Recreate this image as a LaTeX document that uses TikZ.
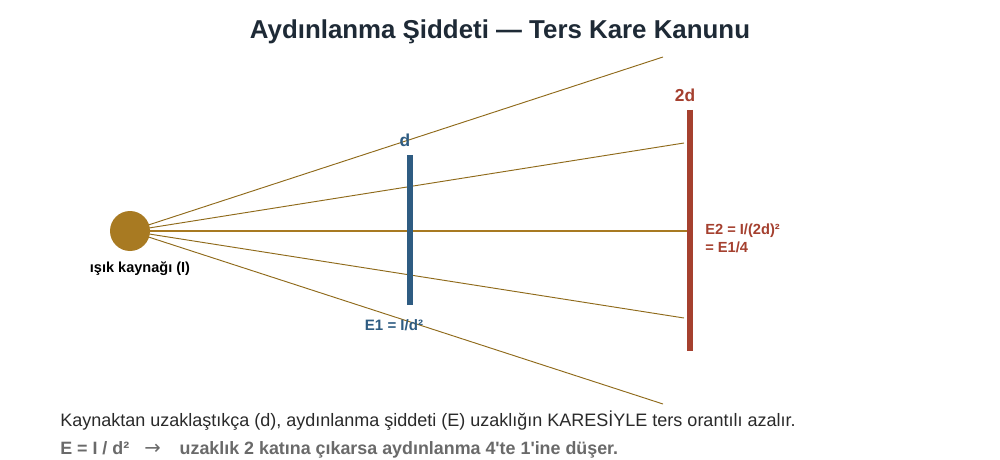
\documentclass[tikz,border=0pt]{standalone}
\usepackage{fontspec}
\setmainfont{Liberation Sans}[Ligatures=TeXOff]
\newfontfamily\arrowfont{DejaVu Sans}[Scale=1.1]
\definecolor{srcgold}{HTML}{A87A22}
\definecolor{raygold}{HTML}{8F6A1A}
\definecolor{barblue}{HTML}{2E5C82}
\definecolor{barred}{HTML}{A5402F}
\definecolor{titlec}{HTML}{1E2A36}
\definecolor{bodyc}{HTML}{2A2A2A}
\definecolor{greyc}{HTML}{6A6A6A}
\begin{document}
\begin{tikzpicture}[x=0.75pt,y=-0.75pt,
  ray/.style={draw=raygold,line width=0.7pt},
  axisray/.style={draw=srcgold,line width=1.5pt},
  bar/.style={line width=4.5pt},
  lbl/.style={font=\bfseries\fontsize{11.3}{13}\selectfont,inner sep=0pt}]
\useasboundingbox (0,0) rectangle (1000,460);
\fill[white] (0,0) rectangle (1000,460);
% title
\node[font=\bfseries\fontsize{19.4}{23}\selectfont,text=titlec,inner sep=0pt] (title) at (500,32) {Aydınlanma Şiddeti — Ters Kare Kanunu};
% source centre and ray ends
\coordinate (S) at (130,231);
\coordinate (r1) at (663,57);
\coordinate (r2) at (684,143);
\coordinate (r3) at (690,231);
\coordinate (r4) at (684,318);
\coordinate (r5) at (663,404);
\draw[ray] (S) -- (r1);
\draw[ray] (S) -- (r2);
\draw[axisray] (S) -- (r3);
\draw[ray] (S) -- (r4);
\draw[ray] (S) -- (r5);
\node[circle,fill=srcgold,minimum size=30pt,inner sep=0pt] (src) at (S) {};
\node[lbl,text=black,font=\bfseries\fontsize{10.9}{13}\selectfont] (srclbl) at (140,269) {ışık kaynağı (I)};
% bars
\coordinate (b1t) at (410,155);
\coordinate (b1b) at (410,305);
\draw[bar,barblue] (b1t) -- (b1b);
\coordinate (b2t) at (690,110);
\coordinate (b2b) at (690,351);
\draw[bar,barred] (b2t) -- (b2b);
% labels
\node[lbl,text=barblue,font=\bfseries\fontsize{13}{15}\selectfont] (dl) at (405,140) {d};
\node[lbl,text=barblue] (e1) at (394,325) {E1 = I/d²};
\node[lbl,text=barred,font=\bfseries\fontsize{13}{15}\selectfont] (dl2) at (685,95) {2d};
\node[lbl,text=barred,anchor=west,align=left,font=\bfseries\fontsize{11}{13.5}\selectfont] (e2) at (705,238) {E2 = I/(2d)²\\= E1/4};
% bottom text
\node[anchor=west,inner sep=0pt,text=bodyc,font=\fontsize{13.5}{16}\selectfont] (t1) at (60,421) {Kaynaktan uzaklaştıkça (d), aydınlanma şiddeti (E) uzaklığın KARESİYLE ters orantılı azalır.};
\node[anchor=west,inner sep=0pt,text=greyc,font=\fontsize{13.4}{16}\selectfont] (t2) at (60,450) {\textbf{E = I / d²}\hspace{0.85em}{\arrowfont →}\hspace{1.05em}\textbf{uzaklık 2 katına çıkarsa aydınlanma 4'te 1'ine düşer.}};
\end{tikzpicture}
\end{document}
